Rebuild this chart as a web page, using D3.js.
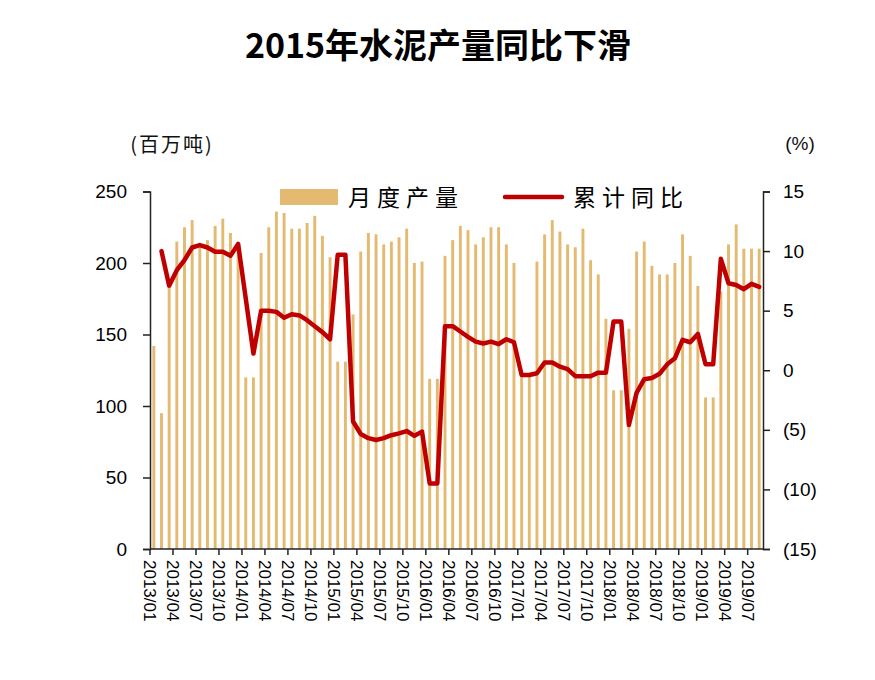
<!DOCTYPE html>
<html>
<head>
<meta charset="utf-8">
<script src="https://cdn.jsdelivr.net/npm/d3@7"></script>
<style>
  body { margin: 0; background: #fff; }
  text { font-family: "Liberation Sans", Arial, sans-serif; }
  .cjk { font-family: "Noto Sans CJK SC", sans-serif; }
</style>
</head>
<body>
<div id="chart"></div>
<script>
// monthly categories 2013/01 .. 2019/08
var months = [];
for (var yr = 2013; yr <= 2019; yr++) {
  for (var m = 1; m <= 12; m++) {
    if (yr === 2019 && m > 8) break;
    months.push(yr + "/" + (m < 10 ? "0" + m : m));
  }
}

// 月度产量 (百万吨)
var output = [
  142, 95, 186, 215, 225, 230, 212, 216, 226, 231, 221, 213,
  120, 120, 207, 225, 236, 235, 224, 224, 228, 233, 219, 204,
  131, 131, 164, 208, 221, 220, 213, 215, 218, 224, 200, 201,
  119, 119, 205, 216, 226, 223, 213, 218, 225, 225, 213, 200,
  121, 121, 201, 220, 230, 222, 213, 211, 224, 202, 192, 161,
  111, 111, 154, 208, 215, 198, 192, 192, 200, 220, 205, 184,
  106, 106, 180, 213, 227, 210, 210, 210
];

// 累计同比 (%)
var yoy = [
  null, 10.0, 7.1, 8.4, 9.25, 10.3, 10.5, 10.3, 9.95, 9.95, 9.6, 10.6,
  null, 1.4, 5.0, 5.0, 4.9, 4.4, 4.7, 4.6, 4.2, 3.7, 3.2, 2.6,
  9.7, 9.7, -4.3, -5.35, -5.7, -5.85, -5.7, -5.45, -5.3, -5.1, -5.5, -5.15,
  -9.5, -9.5, 3.7, 3.7, 3.25, 2.8, 2.4, 2.25, 2.4, 2.2, 2.6, 2.35,
  -0.4, -0.4, -0.25, 0.65, 0.65, 0.3, 0.1, -0.5, -0.5, -0.5, -0.2, -0.2,
  4.1, 4.1, -4.6, -1.9, -0.75, -0.65, -0.3, 0.5, 1.0, 2.55, 2.35, 3.05,
  0.5, 0.5, 9.35, 7.3, 7.15, 6.8, 7.25, 7.0
];

var leftTicks = [0, 50, 100, 150, 200, 250];
var rightTicks = [-15, -10, -5, 0, 5, 10, 15];

var width = 875, height = 680;
var margin = {top: 191.5, right: 112, bottom: 131, left: 150};

var svg = d3.select("#chart")
  .append("svg")
  .attr("width", width)
  .attr("height", height);

var x = d3.scaleBand()
  .domain(months)
  .range([margin.left, width - margin.right])
  .paddingInner(0.62)
  .paddingOuter(0.31);

var yL = d3.scaleLinear()
  .domain([0, 250])
  .range([height - margin.bottom, margin.top]);

var yR = d3.scaleLinear()
  .domain([-15, 15])
  .range([height - margin.bottom, margin.top]);

var step = x.step();

// title
svg.append("text")
  .attr("x", 438)
  .attr("y", 58)
  .attr("text-anchor", "middle")
  .attr("class", "cjk")
  .style("font-size", "34px")
  .style("font-weight", "bold")
  .style("fill", "#000")
  .text("2015年水泥产量同比下滑");

// unit labels
svg.append("text")
  .attr("x", 172)
  .attr("y", 152)
  .attr("text-anchor", "middle")
  .attr("class", "cjk")
  .style("font-size", "20px")
  .style("letter-spacing", "2px")
  .style("fill", "#111")
  .text("(百万吨)");

svg.append("text")
  .attr("x", 800)
  .attr("y", 150)
  .attr("text-anchor", "middle")
  .style("font-size", "19px")
  .style("fill", "#111")
  .text("(%)");

// bars
svg.append("g")
  .selectAll("rect")
  .data(output)
  .enter()
  .append("rect")
  .attr("x", function(d, i) { return x(months[i]); })
  .attr("width", x.bandwidth())
  .attr("y", function(d) { return yL(d); })
  .attr("height", function(d) { return yL(0) - yL(d); })
  .attr("fill", "#E3BA70");

// line (gaps are bridged)
var pts = yoy.map(function(d, i) { return {m: months[i], v: d}; })
  .filter(function(d) { return d.v !== null; });

svg.append("path")
  .datum(pts)
  .attr("fill", "none")
  .attr("stroke", "#C00000")
  .attr("stroke-width", 4.5)
  .attr("stroke-linejoin", "round")
  .attr("stroke-linecap", "round")
  .attr("d", d3.line()
    .x(function(d) { return x(d.m) + x.bandwidth() / 2; })
    .y(function(d) { return yR(d.v); }));

// left axis
var gL = svg.append("g")
  .attr("transform", "translate(" + margin.left + ",0)")
  .call(d3.axisLeft(yL).tickValues(leftTicks).tickSize(7).tickPadding(16));

// right axis
var gR = svg.append("g")
  .attr("transform", "translate(" + (width - margin.right) + ",0)")
  .call(d3.axisRight(yR).tickValues(rightTicks).tickSize(7).tickPadding(13)
    .tickFormat(function(d) { return d < 0 ? "(" + (-d) + ")" : d; }));

// bottom axis, a tick every 3 months at the band's left edge
var labelMonths = months.filter(function(d, i) { return i % 3 === 0; });
var gB = svg.append("g")
  .attr("transform", "translate(0," + yL(0) + ")");

gB.append("line")
  .attr("x1", margin.left)
  .attr("x2", width - margin.right)
  .attr("stroke", "#222")
  .attr("stroke-width", 1.5);

var tk = gB.selectAll("g.tk")
  .data(labelMonths)
  .enter()
  .append("g")
  .attr("class", "tk")
  .attr("transform", function(d) {
    var i = months.indexOf(d);
    return "translate(" + (margin.left + i * step) + ",0)";
  });

tk.append("line")
  .attr("y2", 6)
  .attr("stroke", "#222")
  .attr("stroke-width", 1.5);

tk.append("text")
  .attr("transform", "translate(0,11) rotate(90)")
  .attr("dy", "0.36em")
  .attr("text-anchor", "start")
  .style("font-size", "17px")
  .style("fill", "#000")
  .text(function(d) { return d; });

[gL, gR].forEach(function(g) {
  g.select(".domain").attr("stroke", "#222").attr("stroke-width", 1.5);
  g.selectAll(".tick line").attr("stroke", "#222").attr("stroke-width", 1.5);
  g.selectAll(".tick text")
    .style("font-size", "19px")
    .style("font-family", "'Liberation Sans', Arial, sans-serif")
    .style("fill", "#000");
});

// legend
var lg = svg.append("g");
lg.append("rect")
  .attr("x", 280).attr("y", 189)
  .attr("width", 58).attr("height", 16)
  .attr("fill", "#E3BA70");
lg.append("text")
  .attr("x", 348).attr("y", 206)
  .attr("class", "cjk")
  .style("font-size", "23px")
  .style("letter-spacing", "6px")
  .style("fill", "#000")
  .text("月度产量");
lg.append("line")
  .attr("x1", 505).attr("x2", 562)
  .attr("y1", 197).attr("y2", 197)
  .attr("stroke", "#C00000")
  .attr("stroke-width", 4.5)
  .attr("stroke-linecap", "round");
lg.append("text")
  .attr("x", 573).attr("y", 206)
  .attr("class", "cjk")
  .style("font-size", "23px")
  .style("letter-spacing", "6px")
  .style("fill", "#000")
  .text("累计同比");
</script>
</body>
</html>
